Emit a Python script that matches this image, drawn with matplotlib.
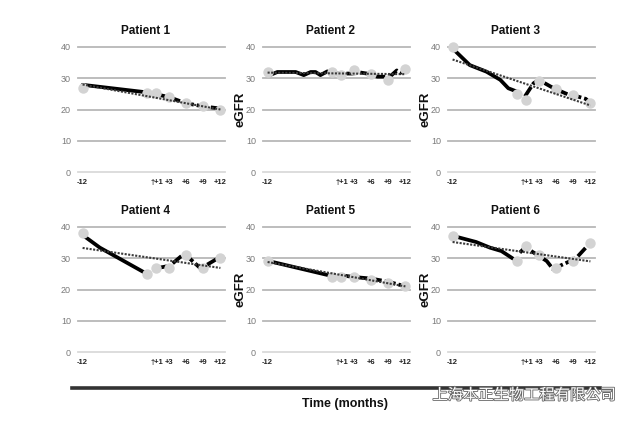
import numpy as np
import matplotlib.pyplot as plt
import matplotlib.patheffects as pe

plt.rcParams['font.family'] = ['Liberation Sans', 'DejaVu Sans']

# ~ DATA ~
tick_months = [-12, 1, 3, 6, 9, 12]
tick_labels = ['-12', '†+1', '+3', '+6', '+9', '+12']
y_ticks = [0, 10, 20, 30, 40]

# months of the grey measurement dots (same for every patient)
dot_months = [-12, -0.7, 0.7, 3, 6, 9, 12]

p1_dots = [27, 25.3, 25.3, 24, 22, 21, 20]
p1_pre_x = [-12, -0.9]
p1_pre_y = [27.9, 25.5]
p1_post_x = [0.7, 3, 6, 9, 12]
p1_post_y = [24.9, 24, 22, 21, 20.3]
p1_trend = [28, 20]

p2_dots = [32, 32, 31, 32.5, 31.5, 29.5, 33]
p2_pre_x = [-11.6, -10.3, -7.1, -5.7, -4.5, -3.65, -2.8, -1.6]
p2_pre_y = [31, 32, 32, 31, 32, 32, 31, 32.2]
p2_post_x = [-0.75, 3, 3.6, 5.3, 7.1, 8.8, 9.6, 10.5, 11.4]
p2_post_y = [31.5, 31.5, 32, 31.5, 30.5, 30.5, 31, 32.5, 31.5]
p2_trend = [31.8, 31.3]

p3_dots = [40, 25, 23, 29, 26.5, 24.5, 22]
p3_pre_x = [-11.7, -9, -6.1, -3.7, -2.3, -0.9]
p3_pre_y = [39, 34.2, 32.1, 29.5, 26.8, 25.8]
p3_post_x = [0.6, 2.1, 3, 5.6, 8, 9.7, 11.2, 12]
p3_post_y = [24.2, 28.4, 29.5, 26.8, 24.9, 24.2, 23.4, 22]
p3_trend = [36, 21.3]

p4_dots = [38, 25, 27, 27, 31, 27, 30]
p4_pre_x = [-11.6, -9, -1.2]
p4_pre_y = [36.9, 33.4, 25.4]
p4_post_x = [1.4, 3.2, 5.2, 6, 8.4, 9, 11.3, 12]
p4_post_y = [27, 27.6, 30.7, 31, 27, 27.2, 29.7, 30]
p4_trend = [33.3, 26.9]

p5_dots = [29, 24, 24, 24, 23, 22, 21]
p5_pre_x = [-11.8, -1]
p5_pre_y = [29.1, 24.4]
p5_post_x = [1, 3, 6, 9, 12]
p5_post_y = [24.5, 24, 23.5, 22.5, 21]
p5_trend = [28.8, 21]

p6_dots = [37, 29, 34, 31, 27, 29, 35]
p6_pre_x = [-11.4, -7.9, -5.5, -3.5, -1.5]
p6_pre_y = [36.9, 35.2, 33.4, 32.3, 29.9]
p6_post_x = [-0.3, 0.6, 1.2, 4.4, 5.5, 6.7, 8.5, 9.6, 12]
p6_post_y = [31.8, 33.4, 32.9, 29.1, 26.5, 27.6, 29.1, 30.2, 35]
p6_trend = [35.2, 29]

patients = [
    ('Patient 1', p1_dots, p1_pre_x, p1_pre_y, p1_post_x, p1_post_y, p1_trend),
    ('Patient 2', p2_dots, p2_pre_x, p2_pre_y, p2_post_x, p2_post_y, p2_trend),
    ('Patient 3', p3_dots, p3_pre_x, p3_pre_y, p3_post_x, p3_post_y, p3_trend),
    ('Patient 4', p4_dots, p4_pre_x, p4_pre_y, p4_post_x, p4_post_y, p4_trend),
    ('Patient 5', p5_dots, p5_pre_x, p5_pre_y, p5_post_x, p5_post_y, p5_trend),
    ('Patient 6', p6_dots, p6_pre_x, p6_pre_y, p6_post_x, p6_post_y, p6_trend),
]

# ~ LAYOUT ~
W, H = 640, 424
fig = plt.figure(figsize=(W / 100, H / 100), dpi=100)

col_left = [78, 263, 448]
ax_w = 147
row_top = [47, 227]
ax_h = 125

for k, (title, dots, pre_x, pre_y, post_x, post_y, trend) in enumerate(patients):
    r, c = divmod(k, 3)
    ax = fig.add_axes([col_left[c] / W, 1 - (row_top[r] + ax_h) / H, ax_w / W, ax_h / H])
    ax.set_xlim(-12.8, 12.8)
    ax.set_ylim(0, 40)
    for s in ax.spines.values():
        s.set_visible(False)

    # horizontal grid lines, the zero line a bit lighter
    for yv in y_ticks:
        ax.axhline(yv, color='#dadada' if yv == 0 else '#b8b8b8', lw=1.3, zorder=1,
                   clip_on=False)

    ax.plot(pre_x, pre_y, color='black', lw=2.7, solid_capstyle='round', zorder=3)
    ax.plot(post_x, post_y, color='black', lw=2.7, dashes=(3.0, 0.8), zorder=3)
    ax.plot(dot_months, dots, 'o', color='#d3d3d3', ms=7.5, mec='none', zorder=4,
            clip_on=False)
    ax.plot([-12, 12], trend, color='#3a3a3a', lw=1.5, dashes=(1, 0.7), zorder=5)

    ax.set_xticks(tick_months)
    ax.set_xticklabels(tick_labels, fontsize=5.5, fontweight='bold', color='#222222')
    ax.set_yticks(y_ticks)
    ax.set_yticklabels([str(v) for v in y_ticks], fontsize=6.5, color='#7a7a7a')
    ax.tick_params(length=0, pad=5)
    ax.tick_params(axis='x', pad=5)

    ax.set_title(title, fontsize=8.5, fontweight='bold', color='#111111', pad=9, x=0.46)
    if c > 0:
        ax.set_ylabel('eGFR', fontsize=9.5, fontweight='bold', color='#111111', labelpad=0)

# bottom rule and shared x label
fig.add_artist(plt.Line2D([72 / W, 600 / W], [1 - 388 / H, 1 - 388 / H],
                          color='#333333', lw=2.6))
fig.text(345 / W, 1 - 404 / H, 'Time (months)', ha='center', va='center',
         fontsize=9, fontweight='bold', color='#111111')

# watermark
fig.text(524 / W, 1 - 395 / H, '上海本正生物工程有限公司', ha='center', va='center',
         fontsize=11, color='white', family=['Noto Sans CJK SC', 'DejaVu Sans'],
         path_effects=[pe.withStroke(linewidth=1.2, foreground='#666666')])

fig.savefig('out.png', dpi=100)
